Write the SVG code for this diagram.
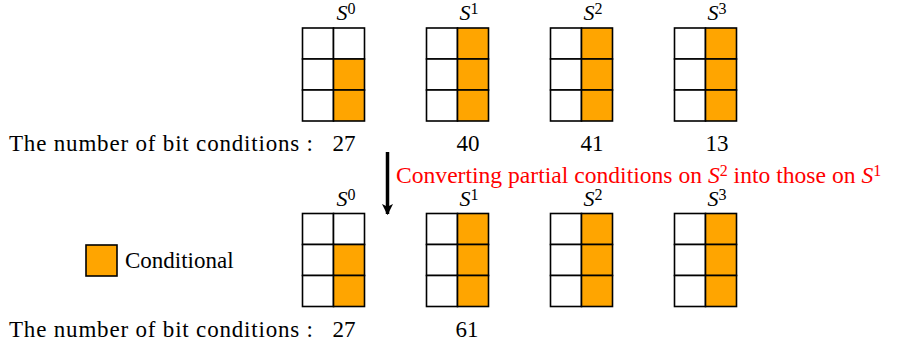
<svg xmlns="http://www.w3.org/2000/svg" width="920" height="348" viewBox="0 0 920 348">
<style>
text{font-family:"Liberation Serif","Times New Roman","DejaVu Serif",serif;font-size:23px;fill:#000}
.lab{font-size:22px}
.s{font-style:italic}
.sup{font-size:16px;font-style:normal}
.red{fill:#FF0000;font-size:23.6px}
.w{fill:#fff;stroke:#000;stroke-width:1.6}
.o{fill:#FFA500;stroke:#000;stroke-width:1.6}
.mid{text-anchor:middle}
</style>
<defs>
<g id="g1">
<rect class="w" x="0" y="0" width="31" height="31"/><rect class="w" x="31" y="0" width="31" height="31"/>
<rect class="w" x="0" y="31" width="31" height="31"/><rect class="o" x="31" y="31" width="31" height="31"/>
<rect class="w" x="0" y="62" width="31" height="31"/><rect class="o" x="31" y="62" width="31" height="31"/>
</g>
<g id="g2">
<rect class="w" x="0" y="0" width="31" height="31"/><rect class="o" x="31" y="0" width="31" height="31"/>
<rect class="w" x="0" y="31" width="31" height="31"/><rect class="o" x="31" y="31" width="31" height="31"/>
<rect class="w" x="0" y="62" width="31" height="31"/><rect class="o" x="31" y="62" width="31" height="31"/>
</g>
<marker id="ah" viewBox="0 0 10 10" refX="9" refY="5" markerWidth="3.2" markerHeight="3.2" orient="auto" markerUnits="strokeWidth">
<path d="M0,0 L10,5 L0,10 L2.5,5 Z" fill="#000"/>
</marker>
</defs>

<g id="top-S0"><use href="#g1" x="302.5" y="28"/><text class="mid lab" x="346" y="20"><tspan class="s">S</tspan><tspan class="sup" dy="-6">0</tspan></text></g>
<g id="top-S1"><use href="#g2" x="426.5" y="28"/><text class="mid lab" x="469" y="20"><tspan class="s">S</tspan><tspan class="sup" dy="-6">1</tspan></text></g>
<g id="top-S2"><use href="#g2" x="550.5" y="28"/><text class="mid lab" x="593" y="20"><tspan class="s">S</tspan><tspan class="sup" dy="-6">2</tspan></text></g>
<g id="top-S3"><use href="#g2" x="674.5" y="28"/><text class="mid lab" x="717" y="20"><tspan class="s">S</tspan><tspan class="sup" dy="-6">3</tspan></text></g>

<g id="top-counts">
<text x="9" y="151" textLength="304" lengthAdjust="spacing">The number of bit conditions :</text>
<text class="mid" x="344" y="151">27</text>
<text class="mid" x="468" y="151">40</text>
<text class="mid" x="592" y="151">41</text>
<text class="mid" x="717" y="151">13</text>
</g>

<g id="connectors">
<line x1="387.5" y1="152" x2="387.5" y2="214" stroke="#000" stroke-width="3.5" marker-end="url(#ah)"/>
</g>
<g id="conversion-label">
<text class="red" x="396" y="182.5">Converting partial conditions on <tspan class="s">S</tspan><tspan class="sup" dy="-7">2</tspan><tspan dy="7"> into those on </tspan><tspan class="s">S</tspan><tspan class="sup" dy="-7">1</tspan></text>
</g>

<g id="bot-S0"><use href="#g1" x="302.5" y="213.5"/><text class="mid lab" x="346" y="205.5"><tspan class="s">S</tspan><tspan class="sup" dy="-6">0</tspan></text></g>
<g id="bot-S1"><use href="#g2" x="426.5" y="213.5"/><text class="mid lab" x="469" y="205.5"><tspan class="s">S</tspan><tspan class="sup" dy="-6">1</tspan></text></g>
<g id="bot-S2"><use href="#g2" x="550.5" y="213.5"/><text class="mid lab" x="593" y="205.5"><tspan class="s">S</tspan><tspan class="sup" dy="-6">2</tspan></text></g>
<g id="bot-S3"><use href="#g2" x="674.5" y="213.5"/><text class="mid lab" x="717" y="205.5"><tspan class="s">S</tspan><tspan class="sup" dy="-6">3</tspan></text></g>

<g id="legend">
<rect class="o" x="86" y="245" width="31" height="31"/>
<text x="125" y="268">Conditional</text>
</g>

<g id="bot-counts">
<text x="9" y="337" textLength="304" lengthAdjust="spacing">The number of bit conditions :</text>
<text class="mid" x="344" y="337">27</text>
<text class="mid" x="467" y="337">61</text>
</g>
</svg>
